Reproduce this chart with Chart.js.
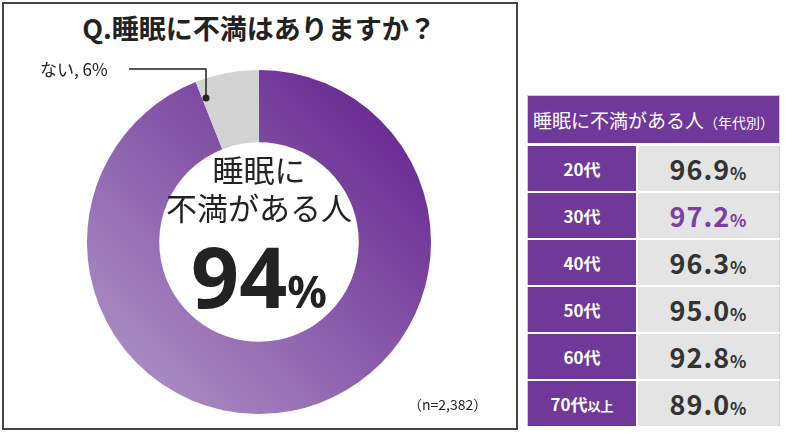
<!DOCTYPE html>
<html><head><meta charset="utf-8">
<script src="https://cdn.jsdelivr.net/npm/chart.js@4"></script>
<style>
body{margin:0;width:800px;height:437px;background:#fff;font-family:"Noto Sans CJK JP","Noto Sans",sans-serif;position:relative;overflow:hidden}
.box{position:absolute;left:2px;top:2px;width:512px;height:424px;border:2px solid #444}
.t{position:absolute;white-space:nowrap;color:#222}
table{position:absolute;left:527px;top:95px;width:253px;border-collapse:collapse;border:1px solid #ccc}
td{height:45px;border-bottom:2px solid #fff;padding:0;text-align:center}
td.k{background:#6f3899;color:#fff;font-weight:bold;font-size:17px;width:108px;border-right:2px solid #fff}
td.v{background:#e4e4e4;color:#333;font-weight:bold;font-size:27px;letter-spacing:1px}
td.v small{font-size:17px}
th{background:#6f3899;color:#fff;font-weight:normal;font-size:19px;height:45px;border-bottom:3px solid #fff}
th small{font-size:14px}
</style></head><body>
<div class="box"></div>
<div class="t" style="left:0;width:518px;text-align:center;top:8px;font-size:27px;font-weight:bold">Q.睡眠に不満はありますか？</div>
<canvas id="c" width="344" height="344" style="position:absolute;left:87px;top:70px"></canvas>
<svg style="position:absolute;left:0;top:0" width="520" height="430"><path d="M129 69 H206 V98" stroke="#222" stroke-width="1.5" fill="none"/><circle cx="206" cy="98" r="3.5" fill="#222"/></svg>
<div class="t" style="left:40px;top:56px;font-size:17px">ない, 6%</div>
<div class="t" style="left:159px;width:200px;text-align:center;top:150px;font-size:31px;line-height:38px">睡眠に<br>不満がある人</div>
<div class="t" style="left:159px;width:200px;text-align:center;top:226px;font-size:84px;font-weight:bold;line-height:100px;font-family:'Noto Sans',sans-serif">94<span style="font-size:44px">%</span></div>
<div class="t" style="left:408px;top:394px;font-size:14px">（n=2,382）</div>
<table id="tb"></table>
<script>
const labels=["不満がある","ない"];
const values=[94,6];
const ages=["20代","30代","40代","50代","60代","70代以上"];
const rates=[96.9,97.2,96.3,95.0,92.8,89.0];
const highlight="30代";
let h='<tr><th colspan="2">睡眠に不満がある人<small>（年代別）</small></th></tr>';
ages.forEach((a,i)=>{const m=a.match(/^(\d+代)(.*)$/);
h+=`<tr><td class="k">${m[1]}<span style="font-size:13px">${m[2]}</span></td><td class="v" style="${a===highlight?'color:#7a3ea6':''}">${rates[i].toFixed(1)}<small>%</small></td></tr>`;});
document.getElementById('tb').innerHTML=h;
new Chart(document.getElementById('c'),{type:'doughnut',
data:{labels,datasets:[{data:values,borderWidth:0,
backgroundColor:(ctx)=>{if(ctx.dataIndex===1)return '#d3d3d3';const a=ctx.chart.chartArea;if(!a)return '#7d4aa6';
const g=ctx.chart.ctx.createLinearGradient(a.right,a.top,a.left,a.bottom);g.addColorStop(0,'#5e1a8a');g.addColorStop(1,'#b49ccb');return g;}}]},
options:{responsive:false,animation:false,cutout:'58%',layout:{padding:0},plugins:{legend:{display:false},tooltip:{enabled:false}}}});
</script></body></html>
